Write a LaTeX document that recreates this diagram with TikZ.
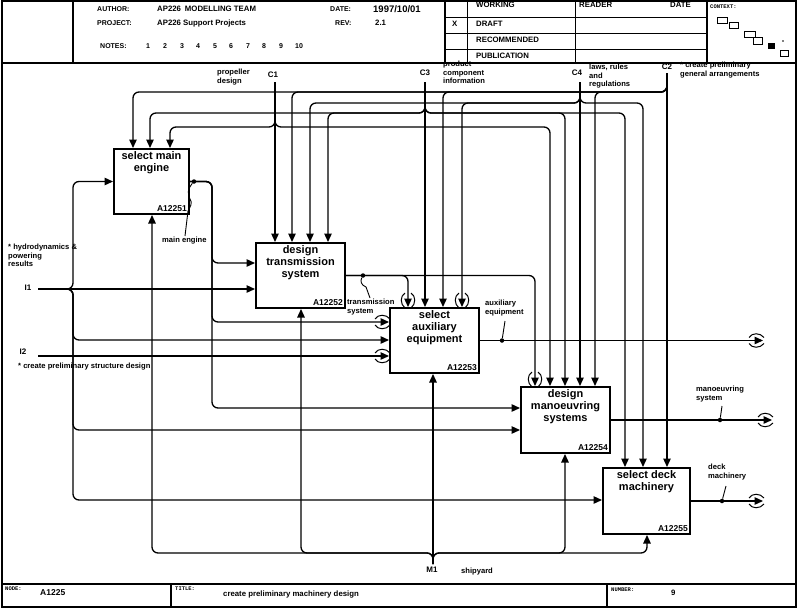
\documentclass[tikz,border=0pt]{standalone}
\usepackage{fontspec}
\setmainfont{Liberation Sans}
\setmonofont{Liberation Mono}
\usetikzlibrary{arrows.meta}
\begin{document}
\begin{tikzpicture}[x=1pt,y=-1pt,
  conn/.style={line width=1.3pt, rounded corners=6pt},
  arr/.style={conn, -{Triangle[length=8.5pt,width=7.5pt]}},
  boxst/.style={draw, line width=2pt, inner sep=0pt, anchor=north west},
  ttl/.style={font=\fontsize{11}{12}\selectfont\bfseries, align=center, anchor=north, inner sep=0pt},
  bid/.style={font=\fontsize{8.5}{9}\selectfont\bfseries, anchor=south east, inner sep=3pt},
  lbl/.style={font=\fontsize{7.6}{8.5}\selectfont\bfseries, align=left, anchor=north west, inner sep=0pt},
  cid/.style={font=\fontsize{8}{9}\selectfont\bfseries, inner sep=0pt},
  hdr/.style={font=\fontsize{7}{8}\selectfont\bfseries, anchor=west, inner sep=0pt},
  hdrv/.style={font=\fontsize{7.8}{8.5}\selectfont\bfseries, anchor=west, inner sep=0pt},
  mono/.style={font=\fontsize{5.5}{6}\ttfamily\bfseries, anchor=west, inner sep=0pt},
  frm/.style={line width=1.4pt},
  thin/.style={line width=0.9pt},
  tun/.style={line width=1pt},
  jdot/.style={circle, fill, inner sep=0pt, minimum size=4.5pt},
  ldr/.style={line width=0.9pt},
  pics/tund/.style={code={
    \draw[tun] (-3,-14) .. controls (-8,-11) and (-8,-3) .. (-3,1);
    \draw[tun] (3,-14) .. controls (8,-11) and (8,-3) .. (3,1);}},
  pics/tunr/.style={code={
    \draw[tun] (-14,-3) .. controls (-11,-8) and (-3,-8) .. (1,-3);
    \draw[tun] (-14,3) .. controls (-11,8) and (-3,8) .. (1,3);}},
]
\useasboundingbox (0,0) rectangle (800,610);

% ---------- frame ----------
\draw[frm] (2,1) rectangle (796,607);
\draw[frm] (2,63) -- (796,63);
\draw[frm] (73,1) -- (73,63);
\draw[frm] (445,1) -- (445,63);
\draw[thin] (467,1) -- (467,63);
\draw[thin] (575,1) -- (575,63);
\draw[frm] (707,1) -- (707,63);
\draw[thin] (445,17) -- (707,17);
\draw[thin] (445,33) -- (707,33);
\draw[thin] (445,49) -- (707,49);
\draw[frm] (2,584) -- (796,584);
\draw[frm] (171,584) -- (171,607);
\draw[frm] (607,584) -- (607,607);

% ---------- header texts ----------
\node[hdr] (hauthor) at (97,9) {AUTHOR:};
\node[hdrv] (hauthorv) at (157,9) {AP226\enspace MODELLING TEAM};
\node[hdr] (hdate) at (330,9) {DATE:};
\node[hdr, font=\fontsize{9.5}{10}\selectfont\bfseries] (hdatev) at (373,9) {1997/10/01};
\node[hdr] (hproj) at (97,23) {PROJECT:};
\node[hdrv] (hprojv) at (157,23) {AP226 Support Projects};
\node[hdr] (hrev) at (335,23) {REV:};
\node[hdrv] (hrevv) at (375,23) {2.1};
\node[hdr] (hnotes) at (100,46) {NOTES:};
\node[hdr] (n1) at (146,46) {1};
\node[hdr] (n2) at (163,46) {2};
\node[hdr] (n3) at (180,46) {3};
\node[hdr] (n4) at (196,46) {4};
\node[hdr] (n5) at (213,46) {5};
\node[hdr] (n6) at (229,46) {6};
\node[hdr] (n7) at (246,46) {7};
\node[hdr] (n8) at (262,46) {8};
\node[hdr] (n9) at (279,46) {9};
\node[hdr] (n10) at (295,46) {10};

\node[hdrv] (hwork) at (476,5) {WORKING};
\node[hdrv] (hreader) at (579,5) {READER};
\node[hdrv] (hrdate) at (670,5) {DATE};
\node[hdrv] (hx) at (452,24) {X};
\node[hdrv] (hdraft) at (476,24) {DRAFT};
\node[hdrv] (hrec) at (476,40) {RECOMMENDED};
\node[hdrv] (hpub) at (476,56) {PUBLICATION};
\node[mono] (hctx) at (710,7) {CONTEXT:};
\draw[thin] (717,17) rectangle (727,23);
\draw[thin] (729,22) rectangle (738,28);
\draw[thin] (744,31) rectangle (755,37);
\draw[thin] (753,37) rectangle (762,44);
\fill (768,43) rectangle (775,49);
\draw[thin] (780,50) rectangle (788,56);
\fill (783,41) circle (0.8);

% ---------- footer ----------
\node[mono] (fnode) at (5,589) {NODE:};
\node[hdrv, font=\fontsize{8.5}{9}\selectfont\bfseries] (fnodev) at (40,593) {A1225};
\node[mono] (ftitle) at (175,589) {TITLE:};
\node[hdrv] (ftitlev) at (223,594) {create preliminary machinery design};
\node[mono] (fnum) at (611,590) {NUMBER:};
\node[hdrv] (fnumv) at (671,593) {9};

% ---------- boxes ----------
\node[boxst, minimum width=75pt, minimum height=65pt] (b1) at (113,148) {};
\node[boxst, minimum width=89pt, minimum height=65pt] (b2) at (255,242) {};
\node[boxst, minimum width=89pt, minimum height=65pt] (b3) at (389,307) {};
\node[boxst, minimum width=89pt, minimum height=66pt] (b4) at (520,386) {};
\node[boxst, minimum width=87pt, minimum height=66pt] (b5) at (602,467) {};

\node[ttl] (t1) at ([yshift=-3.5pt]b1.north) {select main\\engine};
\node[ttl] (t2) at ([yshift=-3.5pt]b2.north) {design\\transmission\\system};
\node[ttl] (t3) at ([yshift=-3.5pt]b3.north) {select\\auxiliary\\equipment};
\node[ttl] (t4) at ([yshift=-3.5pt]b4.north) {design\\manoeuvring\\systems};
\node[ttl] (t5) at ([yshift=-3.5pt]b5.north) {select deck\\machinery};

\node[bid] (id1) at (b1.south east) {A12251};
\node[bid] (id2) at (b2.south east) {A12252};
\node[bid] (id3) at (b3.south east) {A12253};
\node[bid] (id4) at (b4.south east) {A12254};
\node[bid] (id5) at (b5.south east) {A12255};

% ---------- boundary labels ----------
\node[lbl] (lprop) at (217,69) {propeller\\design};
\node[cid] (lc1) at (273,75) {C1};
\node[cid] (lc3) at (425,73) {C3};
\node[lbl] (lprod) at (443,61) {product\\component\\information};
\node[cid] (lc4) at (577,73) {C4};
\node[lbl] (llaws) at (589,64) {laws, rules\\and\\regulations};
\node[cid] (lc2) at (667,67) {C2};
\node[lbl] (lga) at (680,62) {* create preliminary\\general arrangements};
\node[lbl] (lhyd) at (8,244) {* hydrodynamics \&\\powering\\results};
\node[cid] (li1) at (28,288) {I1};
\node[cid] (li2) at (23,352) {I2};
\node[lbl] (lstruct) at (18,363) {* create preliminary structure design};
\node[cid] (lm1) at (432,570) {M1};
\node[lbl] (lship) at (461,568) {shipyard};

% ---------- controls ----------
\coordinate (c1) at (275,82);
\coordinate (c3) at (425,82);
\coordinate (c4) at (580,82);
\coordinate (c2) at (667,73);

\draw[arr] (c1) -- (c1 |- b2.north);
\draw[arr] (c1) |- (170,127) -- (170,0 |- b1.north);
\draw[arr] (c1) |- (550,127) -- (550,0 |- b4.north);

\draw[arr] (c3) -- (c3 |- b3.north);
\draw[arr] (c3) |- (150,113) -- (150,0 |- b1.north);
\draw[arr] (c3) |- (328,113) -- (328,0 |- b2.north);
\draw[arr] (c3) |- (565,113) -- (565,0 |- b4.north);
\draw[arr] (c3) |- (625,113) -- (625,0 |- b5.north);

\draw[arr] (c4) -- (c4 |- b4.north);
\draw[arr] (c4) |- (310,103) -- (310,0 |- b2.north);
\draw[arr] (c4) |- (462,103) -- (462,0 |- b3.north);
\draw[arr] (c4) |- (643,103) -- (643,0 |- b5.north);

\draw[arr] (c2) -- (c2 |- b5.north);
\draw[arr] (c2) |- (133,92) -- (133,0 |- b1.north);
\draw[arr] (c2) |- (292,92) -- (292,0 |- b2.north);
\draw[arr] (c2) |- (443,92) -- (443,0 |- b3.north);
\draw[arr] (c2) |- (595,92) -- (595,0 |- b4.north);

% ---------- inputs ----------
\coordinate (i1) at (38,289);
\coordinate (i2) at (38,356);
\draw[arr] (i1) -- (i1 -| b2.west);
\draw[arr] (i1) -| (73,0 |- b1.west) -- (b1.west);
\draw[arr] (i1) -| (73,340) -- (b3.west |- 0,340);
\draw[arr] (i1) -| (73,430) -- (b4.west |- 0,430);
\draw[arr] (i1) -| (73,500) -- (b5.west |- 0,500);
\draw[arr] (i2) -- (i2 -| b3.west);

% ---------- main engine ----------
\draw[arr] (b1.east) -| (212,263) -- (b2.west |- 0,263);
\draw[arr] (b1.east) -| (212,322) -- (b3.west |- 0,322);
\draw[arr] (b1.east) -| (212,408) -- (b4.west |- 0,408);
\node[jdot] (d1) at ([xshift=4pt]b1.east) {};
\node[lbl] (lme) at (162,237) {main engine};
\draw[ldr] (d1) .. controls (188,188) and (187,195) .. (190,199) .. controls (193,203) and (190,207) .. (188,211) -- (185,236);

% ---------- transmission system ----------
\draw[arr] (b2.east) -| (535,0 |- b4.north);
\draw[arr] (b2.east) -| (408,0 |- b3.north);
\node[jdot] (d2) at (363,0 |- b2.east) {};
\node[lbl] (ltr) at (347,299) {transmission\\system};
\draw[ldr] (d2) .. controls (360,281) and (361,285) .. (366,287) -- (370,298);

% ---------- outputs ----------
\coordinate (o3) at (763,0 |- b3.east);
\coordinate (o4) at (772,0 |- b4.east);
\coordinate (o5) at (763,0 |- b5.east);
\draw[arr] (b3.east) -- (o3);
\draw[arr] (b4.east) -- (o4);
\draw[arr] (b5.east) -- (o5);
\node[jdot] (d3) at (502,0 |- b3.east) {};
\node[jdot] (d4) at (720,0 |- b4.east) {};
\node[jdot] (d5) at (722,0 |- b5.east) {};
\node[lbl] (laux) at (485,300) {auxiliary\\equipment};
\node[lbl] (lman) at (696,386) {manoeuvring\\system};
\node[lbl] (ldeck) at (708,464) {deck\\machinery};
\draw[ldr] (d3) -- (505,321);
\draw[ldr] (d4) -- (722,406);
\draw[ldr] (d5) -- (726,486);

% ---------- mechanism ----------
\coordinate (m1) at (433,564);
\draw[arr] (m1) -- (m1 |- b3.south);
\draw[arr] (m1) |- (152,553) -- (152,0 |- b1.south);
\draw[arr] (m1) |- (301,553) -- (301,0 |- b2.south);
\draw[arr] (m1) |- (565,553) -- (565,0 |- b4.south);
\draw[arr] (m1) |- (647,553) -- (647,0 |- b5.south);

% ---------- tunnel marks ----------
\pic at (408,0 |- b3.north) {tund};
\pic at (462,0 |- b3.north) {tund};
\pic at (535,0 |- b4.north) {tund};
\pic at (b3.west |- 0,322) {tunr};
\pic at (i2 -| b3.west) {tunr};
\pic at (o3) {tunr};
\pic at (o4) {tunr};
\pic at (o5) {tunr};
\end{tikzpicture}
\end{document}
